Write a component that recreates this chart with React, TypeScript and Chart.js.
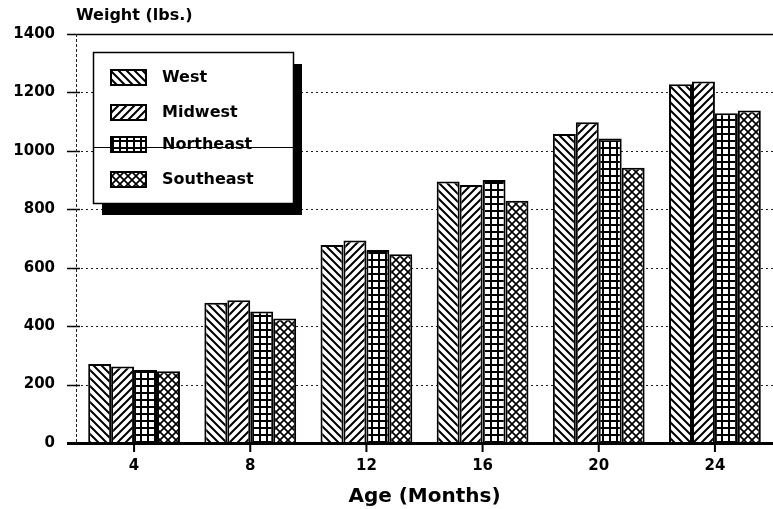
import React, { useEffect, useRef } from "react";
import { Chart, registerables } from "chart.js";

Chart.register(...registerables);

const categories = ["4", "8", "12", "16", "20", "24"];
const seriesNames = ["West", "Midwest", "Northeast", "Southeast"];
const west = [270, 480, 678, 895, 1058, 1228];
const midwest = [262, 489, 693, 883, 1098, 1237];
const northeast = [250, 450, 661, 900, 1042, 1129];
const southeast = [246, 426, 646, 829, 942, 1138];
const yTicks = [0, 200, 400, 600, 800, 1000, 1200, 1400];
const yTitle = "Weight (lbs.)";
const xTitle = "Age (Months)";

const FONT = "'DejaVu Sans', 'Liberation Sans', Arial, sans-serif";

function makePattern(kind: string): CanvasPattern | string {
  const c = document.createElement("canvas");
  const s = kind === "grid" ? 7 : 8;
  c.width = s;
  c.height = s;
  const g = c.getContext("2d")!;
  g.fillStyle = "#fff";
  g.fillRect(0, 0, s, s);
  g.strokeStyle = "#000";
  g.lineCap = "square";
  if (kind === "back") {
    g.lineWidth = 2;
    g.beginPath();
    g.moveTo(-1, -1); g.lineTo(s + 1, s + 1);
    g.moveTo(-1, s - 1); g.lineTo(1, s + 1);
    g.moveTo(s - 1, -1); g.lineTo(s + 1, 1);
    g.stroke();
  } else if (kind === "fwd") {
    g.lineWidth = 2;
    g.beginPath();
    g.moveTo(-1, s + 1); g.lineTo(s + 1, -1);
    g.moveTo(-1, 1); g.lineTo(1, -1);
    g.moveTo(s - 1, s + 1); g.lineTo(s + 1, s - 1);
    g.stroke();
  } else if (kind === "grid") {
    g.fillStyle = "#000";
    g.fillRect(0, 0, s, 2);
    g.fillRect(0, 0, 2, s);
  } else {
    g.lineWidth = 1.7;
    g.beginPath();
    g.moveTo(-1, -1); g.lineTo(s + 1, s + 1);
    g.moveTo(-1, s + 1); g.lineTo(s + 1, -1);
    g.stroke();
  }
  const p = g.createPattern(c, "repeat");
  return p || "#888";
}

export default function App() {
  const ref = useRef<HTMLCanvasElement | null>(null);

  useEffect(() => {
    document.body.style.margin = "0";
    const canvas = ref.current!;
    const pats = [makePattern("back"), makePattern("fwd"), makePattern("grid"), makePattern("cross")];
    const values = [west, midwest, northeast, southeast];

    const decor = {
      id: "decor",
      beforeDatasetsDraw(chart: any) {
        const ctx = chart.ctx;
        const ca = chart.chartArea;
        const y = chart.scales.y;
        ctx.save();
        yTicks.forEach((v) => {
          const py = Math.round(y.getPixelForValue(v)) + 0.5;
          if (v === 0) return;
          if (v === 1400) {
            ctx.setLineDash([]);
            ctx.strokeStyle = "#000";
            ctx.lineWidth = 1.5;
            ctx.beginPath();
            ctx.moveTo(67, py);
            ctx.lineTo(ca.right, py);
            ctx.stroke();
            return;
          }
          ctx.setLineDash([2, 3]);
          ctx.strokeStyle = "#222";
          ctx.lineWidth = 1;
          ctx.beginPath();
          ctx.moveTo(ca.left, py);
          ctx.lineTo(ca.right, py);
          ctx.stroke();
          ctx.setLineDash([]);
          ctx.strokeStyle = "#000";
          ctx.lineWidth = 1.5;
          ctx.beginPath();
          ctx.moveTo(67, py);
          ctx.lineTo(ca.left + 4, py);
          ctx.stroke();
        });
        ctx.setLineDash([3, 2]);
        ctx.strokeStyle = "#222";
        ctx.lineWidth = 1;
        ctx.beginPath();
        ctx.moveTo(ca.left + 0.5, ca.top);
        ctx.lineTo(ca.left + 0.5, ca.bottom);
        ctx.stroke();
        ctx.setLineDash([]);
        ctx.restore();
      },
      afterDatasetsDraw(chart: any) {
        const ctx = chart.ctx;
        const ca = chart.chartArea;
        const y = chart.scales.y;
        const x = chart.scales.x;
        ctx.save();
        const by = y.getPixelForValue(0);
        ctx.fillStyle = "#000";
        ctx.fillRect(67, by - 1, ca.right - 67, 3);
        categories.forEach((_, i) => {
          const px = x.getPixelForValue(i);
          ctx.fillRect(px - 1, by, 2, 9);
        });
        const bx = 93, byy = 52, bw = 200, bh = 151;
        ctx.fillStyle = "#000";
        ctx.fillRect(bx + 9, byy + 12, bw, bh);
        ctx.fillStyle = "#fff";
        ctx.fillRect(bx, byy, bw, bh);
        ctx.strokeStyle = "#000";
        ctx.lineWidth = 1.5;
        ctx.strokeRect(bx + 0.5, byy + 0.5, bw, bh);
        const rows = [70, 105, 137, 172];
        rows.forEach((ry, i) => {
          ctx.fillStyle = pats[i];
          ctx.fillRect(111, ry, 35, 15);
          ctx.strokeStyle = "#000";
          ctx.lineWidth = 2;
          ctx.strokeRect(111, ry, 35, 15);
          ctx.fillStyle = "#000";
          ctx.font = `bold 16px ${FONT}`;
          ctx.textBaseline = "middle";
          ctx.textAlign = "left";
          ctx.fillText(seriesNames[i], 162, ry + 8);
        });
        const ly = Math.round(y.getPixelForValue(1000)) - 3.5;
        ctx.strokeStyle = "#000";
        ctx.lineWidth = 1;
        ctx.beginPath();
        ctx.moveTo(bx, ly);
        ctx.lineTo(bx + bw, ly);
        ctx.stroke();
        ctx.fillStyle = "#000";
        ctx.font = `bold 16px ${FONT}`;
        ctx.textAlign = "left";
        ctx.textBaseline = "alphabetic";
        ctx.fillText(yTitle, 76, 20);
        ctx.font = `bold 20px ${FONT}`;
        ctx.textAlign = "center";
        ctx.fillText(xTitle, (ca.left + ca.right) / 2, 502);
        ctx.restore();
      },
    };

    const chart = new Chart(canvas, {
      type: "bar",
      data: {
        labels: categories,
        datasets: seriesNames.map((n, i) => ({
          label: n,
          data: values[i],
          backgroundColor: pats[i] as any,
          borderColor: "#000",
          borderWidth: 2,
          inflateAmount: 0,
          categoryPercentage: 0.79,
          barPercentage: 1.0,
        })),
      },
      options: {
        animation: false,
        responsive: false,
        maintainAspectRatio: false,
        events: [],
        layout: { padding: { top: 34, right: 0, left: 0, bottom: 0 } },
        plugins: { legend: { display: false }, tooltip: { enabled: false } },
        scales: {
          x: {
            grid: { display: false, drawTicks: false },
            border: { display: false },
            ticks: {
              color: "#000",
              font: { family: FONT, size: 15, weight: "bold" },
              padding: 14,
              maxRotation: 0,
            },
            afterFit: (s: any) => {
              s.height = 66;
            },
          },
          y: {
            min: 0,
            max: 1400,
            grid: { display: false, drawTicks: false },
            border: { display: false },
            ticks: {
              stepSize: 200,
              color: "#000",
              font: { family: FONT, size: 15, weight: "bold" },
              padding: 21,
              callback: (v: any) => String(v),
            },
            afterFit: (s: any) => {
              s.width = 76;
            },
          },
        },
      },
      plugins: [decor],
    });
    return () => chart.destroy();
  }, []);

  return (
    <div style={{ width: 773, height: 509 }}>
      <canvas ref={ref} width={773} height={509} style={{ display: "block", width: 773, height: 509 }} />
    </div>
  );
}
